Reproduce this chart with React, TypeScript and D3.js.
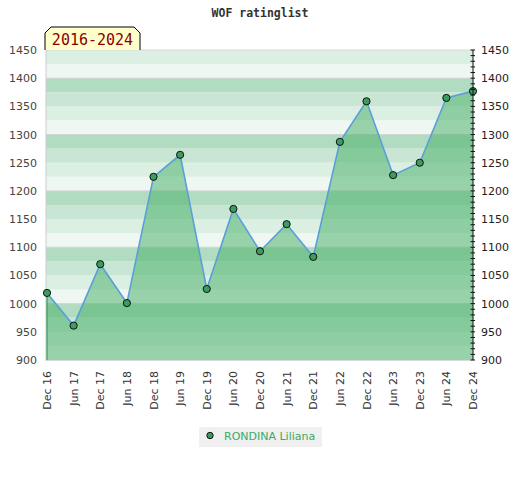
import React from "react";
import * as d3 from "d3";

const periods = ["Dec 16","Jun 17","Dec 17","Jun 18","Dec 18","Jun 19","Dec 19","Jun 20","Dec 20","Jun 21","Dec 21","Jun 22","Dec 22","Jun 23","Dec 23","Jun 24","Dec 24"];
const ratings = [1019,961,1070,1001,1225,1264,1026,1168,1093,1141,1083,1287,1359,1228,1250,1365,1377];
const yTicks = [900,950,1000,1050,1100,1150,1200,1250,1300,1350,1400,1450];
const stripeColors = ["#eff7f2","#dcefe3","#c8e6d3","#b2dcc2"];
const playerName = "RONDINA Liliana";
const titleText = "WOF ratinglist";
const rangeLabel = "2016-2024";

const W = 520, H = 480;
const L = 47, R = 473, T = 50, B = 360;

export default function App() {
  const x = d3.scalePoint<string>().domain(periods).range([L, R]);
  const y = d3.scaleLinear().domain([900, 1450]).range([B, T]);
  const pts = periods.map((p, i) => ({ p, v: ratings[i] }));
  const line = d3.line<any>().x(d => x(d.p)!).y(d => y(d.v));
  const area = d3.area<any>().x(d => x(d.p)!).y0(B).y1(d => y(d.v));

  const stripes: { v0: number; c: string }[] = [];
  for (let v = 900; v < 1450; v += 25) {
    stripes.push({ v0: v, c: stripeColors[((v - 900) / 25) % 4] });
  }
  const minor = d3.range(900, 1451, 10);
  const grid = [1000, 1100, 1200, 1300, 1400];

  return (
    <svg width={W} height={H} style={{ position: "absolute", left: 0, top: 0, background: "#fff" }}>
      <text x={260} y={17} textAnchor="middle" fontFamily="DejaVu Sans Mono" fontWeight="bold" fontSize={11.5} fill="#333">{titleText}</text>
      {stripes.map(s => (
        <rect key={s.v0} x={46} width={R - 46} y={y(s.v0 + 25)} height={y(s.v0) - y(s.v0 + 25)} fill={s.c} />
      ))}
      {grid.map(g => (
        <line key={g} x1={46} x2={R} y1={y(g)} y2={y(g)} stroke="#d2d2d2" strokeWidth={1} />
      ))}
      <line x1={46} x2={R} y1={T} y2={T} stroke="#d8d8d8" />
      <line x1={46} x2={R} y1={B + 0.5} y2={B + 0.5} stroke="#d8d8d8" />
      <line x1={46} x2={46} y1={T} y2={B + 1} stroke="#cccccc" />
      <path d={area(pts)!} fill="rgba(65,173,98,0.5)" />
      <line x1={x(periods[0])!} x2={x(periods[0])!} y1={y(ratings[0])} y2={B} stroke="#3b9a5b" strokeWidth={1.2} />
      <path d={line(pts)!} fill="none" stroke="#5a9fd8" strokeWidth={1.6} />
      {pts.map(d => (
        <circle key={d.p} cx={x(d.p)} cy={y(d.v)} r={3.6} fill="#3a9d5d" stroke="#111" strokeWidth={1} />
      ))}
      <line x1={R} x2={R} y1={T} y2={B} stroke="#111" strokeWidth={1} />
      {minor.map(m => (
        <line key={m} x1={R - 2.5} x2={R + 2} y1={y(m)} y2={y(m)} stroke="#111" strokeWidth={1} />
      ))}
      {yTicks.map(t => (
        <text key={"l" + t} x={37} y={y(t) + 4} textAnchor="end" fontFamily="DejaVu Sans" fontSize={11} fill="#444">{t}</text>
      ))}
      {yTicks.map(t => (
        <text key={"r" + t} x={481} y={y(t) + 4} textAnchor="start" fontFamily="DejaVu Sans" fontSize={11} fill="#222">{t}</text>
      ))}
      {periods.map(p => (
        <text key={p} transform={`translate(${x(p)! + 4},371) rotate(-90)`} textAnchor="end" fontFamily="DejaVu Sans" fontSize={11} fill="#333">{p}</text>
      ))}
      <path d="M45,50 L45,33 L51,27 L134,27 L140,33 L140,50" fill="#ffffcc" stroke="#000" strokeWidth={1} />
      <text x={92.5} y={45} textAnchor="middle" fontFamily="DejaVu Sans Mono" fontSize={15} fill="#8b0000">{rangeLabel}</text>
      <rect x={199} y={427} width={123} height={20} fill="#f0f0f0" />
      <circle cx={210} cy={435.5} r={3.2} fill="#3a9d5d" stroke="#111" strokeWidth={1} />
      <text x={224} y={440} fontFamily="DejaVu Sans" fontSize={11} fill="#3aaa64">{playerName}</text>
    </svg>
  );
}
